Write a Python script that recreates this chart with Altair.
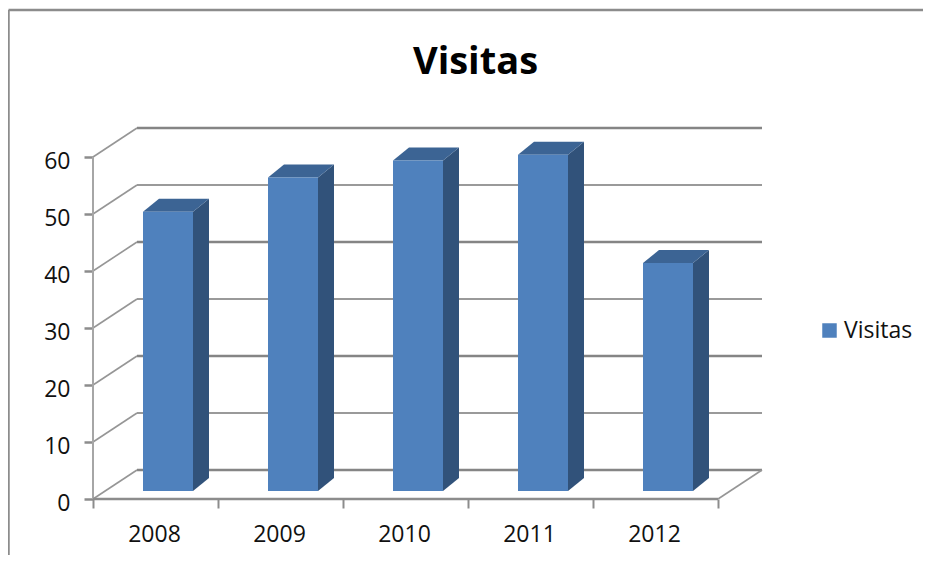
import json
import altair as alt
import pandas as pd

title_text = "Visitas"
series_name = "Visitas"
years = ["2008", "2009", "2010", "2011", "2012"]
values = [49, 55, 58, 59, 40]
tick_values = [0, 10, 20, 30, 40, 50, 60]
strong_lines = [0, 20, 40, 60]
faint_lines = [10, 30, 50]

FONT = "Open Sans"
FRONT = "#4f81bd"
TOP = "#3c6494"
SIDE = "#31527a"
GREY = "#8c8c8c"

# depth of the floor and of the bars, in axis units
wall_dx, wall_dy = 0.352, 5.09
bar_dx, bar_dy = 0.128, 2.28
bar_left, bar_right, bar_base = 0.4, 0.8, 1.4

x_scale = alt.Scale(domain=[0, 5.352], nice=False, zero=False)
y_scale = alt.Scale(domain=[0, 65.09], nice=False, zero=False)
x_axis = alt.Axis(
    values=[0, 1, 2, 3, 4, 5], domain=False, grid=False, title=None,
    tickSize=9, tickWidth=2, tickColor=GREY, labelPadding=15,
    labelFont=FONT, labelFontSize=23, labelColor="#111111",
    labelOffset=61, labelAngle=0, labelFlush=False, labelOverlap=False, labelBound=False,
    labelExpr=f"({json.dumps(years)})[datum.value] || ''",
)
y_axis = alt.Axis(
    values=tick_values, domain=False, grid=False, title=None,
    tickSize=9, tickWidth=2.5, tickColor=GREY, labelPadding=14,
    labelFont=FONT, labelFontSize=23, labelColor="#111111",
    labelOffset=4, labelOverlap=False, labelBound=False,
)
X = lambda f="x": alt.X(f"{f}:Q", scale=x_scale, axis=x_axis)
Y = lambda f="y": alt.Y(f"{f}:Q", scale=y_scale, axis=y_axis)

def rule_layer(rows, color=GREY, width=2.0):
    return alt.Chart(pd.DataFrame(rows)).mark_rule(color=color, strokeWidth=width).encode(
        x=X("x"), x2="x2:Q", y=Y("y"), y2="y2:Q"
    )

def wall_rows(vals):
    return [dict(x=wall_dx, x2=5 + wall_dx, y=v + wall_dy, y2=v + wall_dy) for v in vals]

strong = rule_layer(wall_rows(strong_lines), "#858585", 2.5)
faint = rule_layer(wall_rows(faint_lines), "#9a9a9a", 2.0)
diagonals = rule_layer(
    [dict(x=0, x2=wall_dx, y=v, y2=v + wall_dy) for v in tick_values]
    + [dict(x=5, x2=5 + wall_dx, y=0, y2=wall_dy)],
    "#969696", 1.6,
)
left_line = rule_layer([dict(x=0, x2=0, y=0, y2=60)], "#a6a6a6", 2.0)
floor_line = rule_layer([dict(x=0, x2=5, y=0, y2=0)], "#8c8c8c", 2.5)

front_rows, side_rows, top_rows = [], [], []
for i, (year, v) in enumerate(zip(years, values)):
    l, r, b = i + bar_left, i + bar_right, bar_base
    t = b + v
    front_rows.append(dict(x=l, x2=r, y=b, y2=t, serie=series_name))
    side_rows += [
        dict(k=year, x=r, y=b, y2=t),
        dict(k=year, x=r + bar_dx, y=b + bar_dy, y2=t + bar_dy),
    ]
    top_rows += [
        dict(k=year, x=l, y=t, y2=t),
        dict(k=year, x=l + bar_dx, y=t, y2=t + bar_dy),
        dict(k=year, x=r, y=t, y2=t + bar_dy),
        dict(k=year, x=r + bar_dx, y=t + bar_dy, y2=t + bar_dy),
    ]

side = alt.Chart(pd.DataFrame(side_rows)).mark_area(color=SIDE, interpolate="linear").encode(
    x=X("x"), y=Y("y"), y2="y2:Q", detail="k:N"
)
top = alt.Chart(pd.DataFrame(top_rows)).mark_area(color=TOP, interpolate="linear").encode(
    x=X("x"), y=Y("y"), y2="y2:Q", detail="k:N"
)
front = alt.Chart(pd.DataFrame(front_rows)).mark_rect().encode(
    x=X("x"), x2="x2:Q", y=Y("y"), y2="y2:Q",
    color=alt.Color("serie:N", scale=alt.Scale(domain=[series_name], range=[FRONT]), legend=alt.Legend(
        title=None, orient="none", legendX=725, legendY=191, padding=0,
        symbolType="square", symbolSize=210, symbolStrokeWidth=0,
        labelFont=FONT, labelFontSize=23, labelColor="#111111", labelOffset=3,
    )),
)

# chart frame: left and top edges of the picture
frame_top = alt.Chart(pd.DataFrame({"a": [0]})).mark_rule(color=GREY, strokeWidth=2.5).encode(
    x=alt.value(-84.5), x2=alt.value(840), y=alt.value(-118)
)
frame_left = alt.Chart(pd.DataFrame({"a": [0]})).mark_rule(color=GREY, strokeWidth=2.5).encode(
    x=alt.value(-84.5), y=alt.value(-118), y2=alt.value(435)
)

chart = alt.layer(
    frame_top, frame_left, strong, faint, diagonals, left_line, floor_line, side, top, front
).properties(
    width=669, height=371,
    padding={"left": 85, "top": 120, "right": 161, "bottom": 56},
    autosize=alt.AutoSizeParams(type="none"),
    title=alt.TitleParams(
        title_text, font=FONT, fontSize=38, fontWeight="bold", color="#000000",
        anchor="middle", dx=48, offset=0, dy=73,
    ),
    background="white",
).configure_view(stroke=None)

chart.save("out.html", embed_options={"renderer": "svg", "actions": False})
